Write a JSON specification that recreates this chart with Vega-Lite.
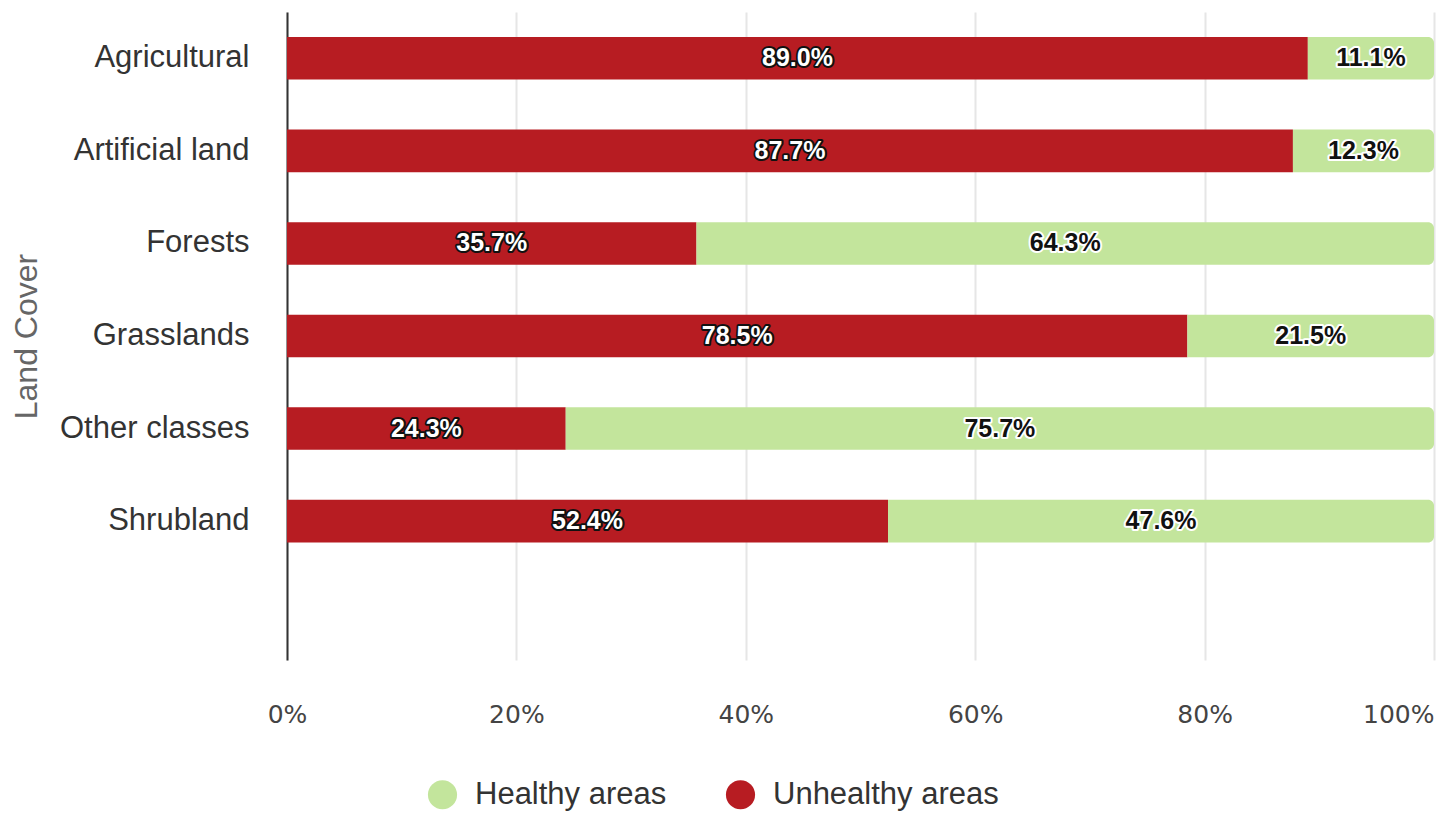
{
  "$schema": "https://vega.github.io/schema/vega-lite/v6.json",
  "width": 1147,
  "height": 648,
  "autosize": {"type": "none"},
  "padding": {"left": 287, "top": 12, "right": 14, "bottom": 154},
  "background": "white",
  "config": {"view": {"stroke": null}},
  "data": {
    "values": [
      {"cover": "Agricultural", "status": "Unhealthy areas", "value": 89.0, "label": "89.0%"},
      {"cover": "Agricultural", "status": "Healthy areas", "value": 11.0, "label": "11.1%"},
      {"cover": "Artificial land", "status": "Unhealthy areas", "value": 87.7, "label": "87.7%"},
      {"cover": "Artificial land", "status": "Healthy areas", "value": 12.3, "label": "12.3%"},
      {"cover": "Forests", "status": "Unhealthy areas", "value": 35.7, "label": "35.7%"},
      {"cover": "Forests", "status": "Healthy areas", "value": 64.3, "label": "64.3%"},
      {"cover": "Grasslands", "status": "Unhealthy areas", "value": 78.5, "label": "78.5%"},
      {"cover": "Grasslands", "status": "Healthy areas", "value": 21.5, "label": "21.5%"},
      {"cover": "Other classes", "status": "Unhealthy areas", "value": 24.3, "label": "24.3%"},
      {"cover": "Other classes", "status": "Healthy areas", "value": 75.7, "label": "75.7%"},
      {"cover": "Shrubland", "status": "Unhealthy areas", "value": 52.4, "label": "52.4%"},
      {"cover": "Shrubland", "status": "Healthy areas", "value": 47.6, "label": "47.6%"}
    ]
  },
  "transform": [
    {"stack": "value", "groupby": ["cover"], "sort": [{"field": "status", "order": "descending"}], "as": ["x0", "x1"]}
  ],
  "encoding": {
    "y": {
      "field": "cover",
      "type": "nominal",
      "scale": {
        "domain": ["Agricultural", "Artificial land", "Forests", "Grasslands", "Other classes", "Shrubland", " "],
        "paddingInner": 0.54,
        "paddingOuter": 0.27
      },
      "axis": {
        "title": "Land Cover",
        "titleFont": "Liberation Sans",
        "titleFontSize": 32,
        "titleFontWeight": "normal",
        "titleColor": "#666666",
        "titleX": -251,
        "titleY": 324,
        "titleAngle": 270,
        "titleBaseline": "alphabetic",
        "titleAlign": "center",
        "labelFont": "Liberation Sans",
        "labelFontSize": 31,
        "labelColor": "#333333",
        "labelPadding": 38,
        "labelLimit": 400,
        "ticks": false,
        "domainColor": "#333333",
        "domainWidth": 2,
        "grid": false
      }
    }
  },
  "layer": [
    {
      "mark": {"type": "bar", "color": "white", "opacity": 0},
      "encoding": {
        "x": {
          "field": "x0",
          "type": "quantitative",
          "scale": {"domain": [0, 100], "nice": false},
          "axis": {
            "title": null,
            "values": [0, 20, 40, 60, 80, 100],
            "labelExpr": "datum.value + '%'",
            "labelFont": "DejaVu Sans",
            "labelFontSize": 25,
            "labelColor": "#444444",
            "labelPadding": 42,
            "labelFlush": false,
            "labelAlign": {"expr": "datum.value === 100 ? 'right' : 'center'"},
            "ticks": false,
            "domain": false,
            "grid": true,
            "gridColor": "#e6e6e6",
            "gridWidth": 2
          }
        },
        "x2": {"field": "x1"}
      }
    },
    {
      "transform": [{"filter": "datum.status === 'Unhealthy areas'"}],
      "mark": {"type": "bar"},
      "encoding": {
        "x": {"field": "x0", "type": "quantitative"},
        "x2": {"field": "x1"},
        "color": {
          "field": "status",
          "type": "nominal",
          "scale": {"domain": ["Healthy areas", "Unhealthy areas"], "range": ["#c3e59c", "#b71c22"]},
          "legend": {
            "title": null,
            "orient": "none",
            "direction": "horizontal",
            "legendX": 140,
            "legendY": 767,
            "symbolType": "circle",
            "symbolSize": 850,
            "symbolOpacity": 1,
            "labelFont": "Liberation Sans",
            "labelFontSize": 31,
            "labelColor": "#333333",
            "labelOffset": 17,
            "columnPadding": 58,
            "labelLimit": 400
          }
        }
      }
    },
    {
      "transform": [{"filter": "datum.status === 'Healthy areas'"}],
      "mark": {"type": "bar", "cornerRadiusTopRight": 6, "cornerRadiusBottomRight": 6},
      "encoding": {
        "x": {"field": "x0", "type": "quantitative"},
        "x2": {"field": "x1"},
        "color": {"field": "status", "type": "nominal"}
      }
    },
    {
      "transform": [
        {"fold": ["x0", "x1"], "as": ["k", "v"]},
        {"aggregate": [{"op": "mean", "field": "v", "as": "mid"}], "groupby": ["cover", "status", "label"]}
      ],
      "mark": {"type": "text", "font": "Liberation Sans", "fontWeight": "bold", "fontSize": 25, "strokeWidth": 4, "strokeJoin": "round", "baseline": "middle", "align": "center"},
      "encoding": {
        "x": {"field": "mid", "type": "quantitative"},
        "text": {"field": "label"},
        "stroke": {"condition": {"test": "datum.status === 'Unhealthy areas'", "value": "#111111"}, "value": "white"},
        "fill": {"condition": {"test": "datum.status === 'Unhealthy areas'", "value": "#111111"}, "value": "white"}
      }
    },
    {
      "transform": [
        {"fold": ["x0", "x1"], "as": ["k", "v"]},
        {"aggregate": [{"op": "mean", "field": "v", "as": "mid"}], "groupby": ["cover", "status", "label"]}
      ],
      "mark": {"type": "text", "font": "Liberation Sans", "fontWeight": "bold", "fontSize": 25, "baseline": "middle", "align": "center"},
      "encoding": {
        "x": {"field": "mid", "type": "quantitative"},
        "text": {"field": "label"},
        "fill": {"condition": {"test": "datum.status === 'Unhealthy areas'", "value": "white"}, "value": "#111111"}
      }
    }
  ]
}
